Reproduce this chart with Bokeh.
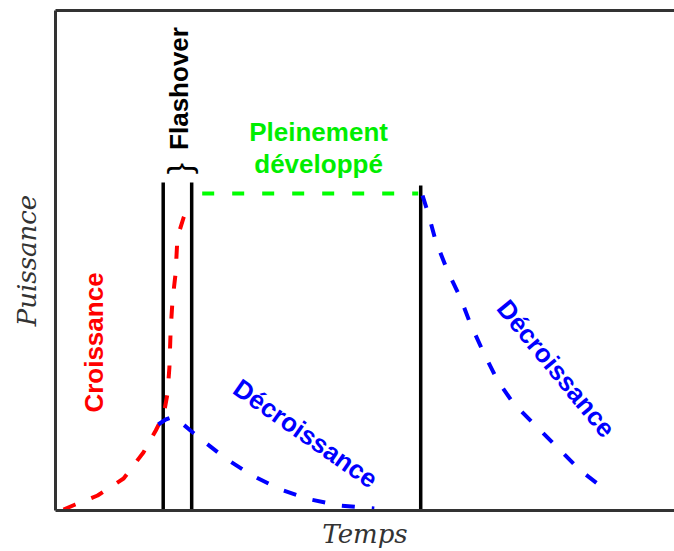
import math
from bokeh.plotting import figure
from bokeh.models import Range1d, LinearAxis, FixedTicker
from bokeh.core.properties import value
from bokeh.embed import file_html
from bokeh.resources import INLINE

# ---- data (time / power, arbitrary units) ----
growth_t = [1.3, 3.2, 6.8, 11.0, 14.2, 16.2, 17.0, 17.6, 18.1, 18.4, 18.6, 18.9, 19.4, 19.7, 20.7, 21.8]
growth_p = [0.2, 1.2, 3.0, 6.4, 11.6, 16.0, 18.0, 20.0, 23.4, 28.6, 36.0, 42.0, 47.4, 54.6, 58.6, 61.6]

early_decay_t = [16.6, 17.8, 18.7, 19.9, 21.8, 24.2, 27.5, 31.5, 36.3, 41.2, 46.0, 51.5]
early_decay_p = [17.2, 18.2, 18.6, 18.0, 16.0, 13.6, 10.4, 7.2, 4.2, 2.2, 1.0, 0.4]

late_decay_t = [59.3, 60.3, 61.4, 63.3, 65.4, 67.0, 69.0, 71.4, 74.0, 77.2, 81.1, 84.8, 89.4]
late_decay_p = [63.0, 59.0, 54.0, 48.0, 42.6, 37.4, 32.0, 26.0, 21.4, 17.4, 12.6, 8.0, 3.6]

full_t = [23.7, 58.6]
full_p = [63.4, 63.4]

flash_start_t = 17.4
flash_end_t = 22.0
decay_start_t = 59.0
flash_top = 65.6
decay_top = 65.0

label_growth = "Croissance"
label_flash = "Flashover"
label_full = ["Pleinement", "développé"]
label_decay = "Décroissance"
x_label = "Temps"
y_label = "Puissance"

p = figure(width=674, height=551, output_backend="svg", toolbar_location=None,
           x_range=Range1d(0, 100), y_range=Range1d(0, 100),
           min_border_left=55, min_border_right=0, min_border_top=10, min_border_bottom=41,
           x_axis_location=None, y_axis_location=None)
p.outline_line_color = None
p.grid.visible = False
p.background_fill_color = "white"

def mk_axis(label=None, standoff=8):
    ax = LinearAxis(ticker=FixedTicker(ticks=[]))
    ax.axis_line_color = "#333333"
    ax.axis_line_width = 3
    ax.major_tick_line_color = None
    ax.minor_tick_line_color = None
    ax.major_tick_out = 0
    ax.major_tick_in = 0
    ax.major_label_standoff = 0
    ax.major_label_text_font_size = "0px"
    if label:
        ax.axis_label = label
        ax.axis_label_text_font = "DejaVu Serif"
        ax.axis_label_text_font_style = "italic"
        ax.axis_label_text_font_size = "26px"
        ax.axis_label_text_color = "#333333"
        ax.axis_label_standoff = standoff
    return ax

p.add_layout(mk_axis(x_label, 8), "below")
p.add_layout(mk_axis(y_label, 14), "left")
p.add_layout(mk_axis(), "above")

dash = "13 17"
# phase boundaries
p.segment(x0=[flash_start_t, flash_end_t, decay_start_t], y0=[0, 0, 0],
          x1=[flash_start_t, flash_end_t, decay_start_t], y1=[flash_top, flash_top, decay_top],
          line_color="black", line_width=3.5)

p.line(growth_t, growth_p, line_color="red", line_width=4, line_dash=dash)
p.line(early_decay_t, early_decay_p, line_color="blue", line_width=4, line_dash=dash)
p.line(late_decay_t, late_decay_p, line_color="blue", line_width=4, line_dash=dash)
p.line(full_t, full_p, line_color="#00ff00", line_width=4, line_dash="12 18")

bold = dict(text_font=value("Liberation Sans"), text_font_style="bold",
            text_font_size="26px", text_align="center", text_baseline="middle")

p.text(x=[6.3], y=[33.6], text=[label_growth], angle=math.pi / 2, text_color="red", **bold)
p.text(x=[20.0], y=[84.4], text=[label_flash], angle=math.pi / 2, text_color="black", **bold)
p.text(x=[19.9], y=[68.4], text=["}"], angle=math.pi / 2, text_color="black",
       text_font=value("Liberation Sans"), text_font_size="34px",
       text_align="center", text_baseline="middle")
p.text(x=[42.5, 42.5], y=[75.8, 69.4], text=label_full, text_color="#00ee00", **bold)
p.text(x=[40.4], y=[15.4], text=[label_decay], angle=math.radians(-35), text_color="blue", **bold)
p.text(x=[80.9], y=[28.4], text=[label_decay], angle=math.radians(-50.5), text_color="blue", **bold)

open("out.html", "w").write(file_html(p, INLINE))
